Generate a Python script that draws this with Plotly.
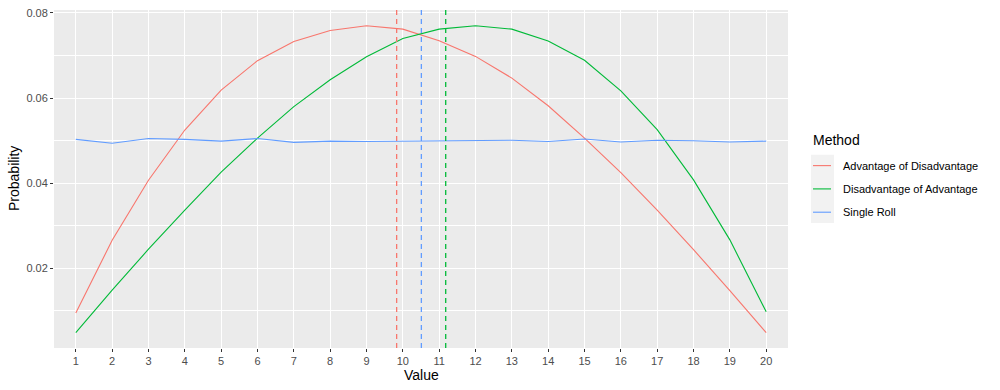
import plotly.graph_objects as go

values = list(range(1, 21))
adv_of_disadv = [0.0095, 0.0266, 0.0407, 0.0525, 0.0619, 0.0688, 0.0733, 0.0759, 0.0770, 0.0762,
                 0.0735, 0.0698, 0.0647, 0.0582, 0.0506, 0.0425, 0.0337, 0.0244, 0.0148, 0.0049]
disadv_of_adv = [0.0049, 0.0149, 0.0245, 0.0337, 0.0426, 0.0506, 0.0580, 0.0643, 0.0697, 0.0740,
                 0.0762, 0.0770, 0.0762, 0.0734, 0.0689, 0.0617, 0.0526, 0.0408, 0.0267, 0.0098]
single_roll = [0.0503, 0.0494, 0.0505, 0.0503, 0.0499, 0.0505, 0.0496, 0.0499, 0.0498, 0.0499,
               0.0499, 0.0501, 0.0501, 0.0498, 0.0504, 0.0497, 0.0501, 0.0500, 0.0497, 0.0499]
series_names = ["Advantage of Disadvantage", "Disadvantage of Advantage", "Single Roll"]
series_values = [adv_of_disadv, disadv_of_adv, single_roll]
series_means = [9.83, 11.18, 10.51]
colors = ["#F8766D", "#00BA38", "#619CFF"]
y_ticks = [0.02, 0.04, 0.06, 0.08]

fig = go.Figure()
for name, vals, col in zip(series_names, series_values, colors):
    fig.add_trace(go.Scatter(x=values, y=vals, mode="lines", name=name,
                             line=dict(color=col, width=1.1), showlegend=False))
for m, col in zip(series_means, colors):
    fig.add_shape(type="line", xref="x", yref="paper", x0=m, x1=m, y0=0, y1=1,
                  line=dict(color=col, width=1.3, dash="5px,4px"), layer="above")

# panel geometry in pixels
L, R, T, B = 54, 788, 7, 348
def px(x):
    return (x - L) / (R - L)
def py(y):
    return (B - y) / (B - T)

# manual ggplot-style legend
annotations = [
    dict(text="Method", x=px(811), y=py(138), xref="paper", yref="paper",
         xanchor="left", yanchor="middle", showarrow=False,
         font=dict(size=14, color="black")),
    dict(text="Value", x=0.5, y=py(375), xref="paper", yref="paper",
         xanchor="center", yanchor="middle", showarrow=False,
         font=dict(size=14, color="black")),
    dict(text="Probability", x=px(14), y=0.5, xref="paper", yref="paper",
         xanchor="center", yanchor="middle", showarrow=False, textangle=-90,
         font=dict(size=14, color="black")),
]
shapes = [dict(type="rect", xref="paper", yref="paper", x0=px(811), x1=px(834),
               y0=py(222), y1=py(153), fillcolor="#F2F2F2", line=dict(width=0), layer="below")]
key_y = [164, 187.5, 211]
for name, col, ky in zip(series_names, colors, key_y):
    shapes.append(dict(type="line", xref="paper", yref="paper", x0=px(813), x1=px(831),
                       y0=py(ky), y1=py(ky), line=dict(color=col, width=1.1)))
    annotations.append(dict(text=name, x=px(841), y=py(ky), xref="paper", yref="paper",
                            xanchor="left", yanchor="middle", showarrow=False,
                            font=dict(size=11, color="black")))
for s in shapes:
    fig.add_shape(**s)

fig.update_layout(
    width=1000, height=390,
    margin=dict(l=L, r=1000 - R, t=T, b=390 - B),
    paper_bgcolor="white", plot_bgcolor="#EBEBEB",
    font=dict(family="Liberation Sans, Arial, sans-serif", size=11, color="#4D4D4D"),
    annotations=annotations,
    showlegend=False,
)
fig.update_xaxes(range=[0.4, 20.6], tickvals=values, ticktext=[str(v) for v in values],
                 showgrid=True, gridcolor="white", gridwidth=1.1, zeroline=False,
                 ticks="outside", ticklen=3, tickcolor="#333333", tickwidth=1,
                 tickfont=dict(size=11, color="#4D4D4D"), showline=False)
fig.update_yaxes(range=[0.0013, 0.0807], tickvals=y_ticks, ticktext=[f"{v:.2f}" for v in y_ticks],
                 showgrid=True, gridcolor="white", gridwidth=1.1, zeroline=False,
                 ticks="outside", ticklen=3, tickcolor="#333333", tickwidth=1,
                 tickfont=dict(size=11, color="#4D4D4D"), showline=False,
                 minor=dict(tickvals=[0.01, 0.03, 0.05, 0.07], showgrid=True,
                            gridcolor="white", gridwidth=0.55, ticks=""))

fig.write_html("out.html", config={"displayModeBar": False},
               post_script="document.body.style.margin='0';document.body.style.padding='0';")
